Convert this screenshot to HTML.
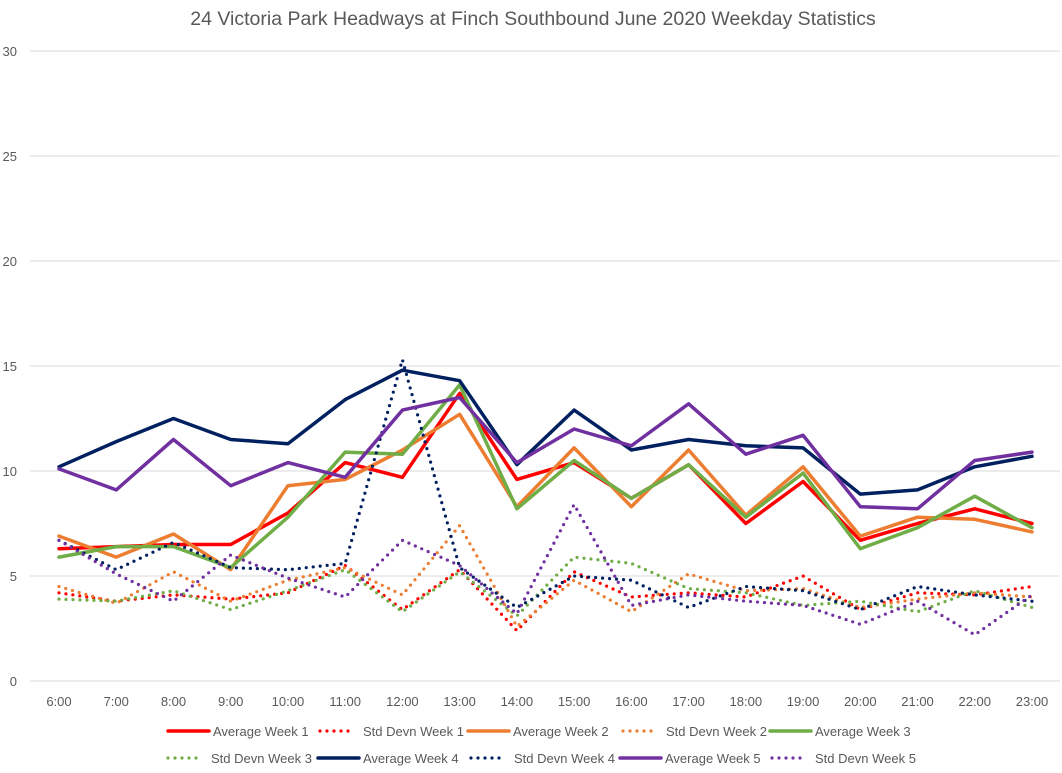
<!DOCTYPE html>
<html><head><meta charset="utf-8"><style>
html,body{margin:0;padding:0;background:#fff;}
svg{display:block;font-family:"Liberation Sans",sans-serif;}
</style></head><body>
<svg id="chart" width="1062" height="773">
<text x="533" y="25" text-anchor="middle" font-size="19.5" fill="#595959">24 Victoria Park Headways at Finch Southbound June 2020 Weekday Statistics</text>
<g id="grid"></g><g id="series"></g><g id="legend"></g>
</svg>
<script>
const categories=["6:00","7:00","8:00","9:00","10:00","11:00","12:00","13:00","14:00","15:00","16:00","17:00","18:00","19:00","20:00","21:00","22:00","23:00"];
const yTicks=[0,5,10,15,20,25,30];
const avgW1=[6.3,6.4,6.5,6.5,8.0,10.4,9.7,13.7,9.6,10.4,8.7,10.3,7.5,9.5,6.7,7.5,8.2,7.5];
const stdW1=[4.2,3.8,4.1,3.9,4.2,5.5,3.4,5.3,2.4,5.2,4.0,4.2,4.0,5.0,3.4,4.2,4.1,4.5];
const avgW2=[6.9,5.9,7.0,5.3,9.3,9.6,11.0,12.7,8.3,11.1,8.3,11.0,7.9,10.2,6.9,7.8,7.7,7.1];
const stdW2=[4.5,3.7,5.2,3.8,4.8,5.4,4.1,7.4,2.6,4.8,3.3,5.1,4.3,4.4,3.5,3.9,4.2,4.0];
const avgW3=[5.9,6.4,6.4,5.4,7.8,10.9,10.8,14.1,8.2,10.5,8.7,10.3,7.8,9.9,6.3,7.3,8.8,7.3];
const stdW3=[3.9,3.8,4.3,3.4,4.3,5.3,3.3,5.2,3.1,5.9,5.6,4.4,4.2,3.6,3.8,3.3,4.3,3.5];
const avgW4=[10.2,11.4,12.5,11.5,11.3,13.4,14.8,14.3,10.3,12.9,11.0,11.5,11.2,11.1,8.9,9.1,10.2,10.7];
const stdW4=[6.7,5.3,6.6,5.4,5.3,5.6,15.3,5.4,3.5,5.0,4.8,3.5,4.5,4.3,3.4,4.5,4.1,3.8];
const avgW5=[10.1,9.1,11.5,9.3,10.4,9.7,12.9,13.5,10.4,12.0,11.2,13.2,10.8,11.7,8.3,8.2,10.5,10.9];
const stdW5=[6.7,5.1,3.8,6.0,4.9,4.0,6.7,5.5,3.2,8.4,3.6,4.1,3.8,3.6,2.7,3.8,2.2,4.1];

const NS="http://www.w3.org/2000/svg";
function xPos(i){return 59+i*(1032-59)/(categories.length-1);}
function yPos(v){return 681-v*21;}
function mk(tag,attrs,parent){const e=document.createElementNS(NS,tag);for(const k in attrs)e.setAttribute(k,attrs[k]);parent.appendChild(e);return e;}
const grid=document.getElementById('grid');
yTicks.forEach(t=>{
  const l=mk('line',{x1:30,x2:1060,y1:yPos(t),y2:yPos(t),stroke:'#d9d9d9','stroke-width':1},grid);
  
  
  const tx=mk('text',{x:17,y:yPos(t)+5,'text-anchor':'end','font-size':13,fill:'#595959'},grid);
  tx.textContent=t;
  
  
});
categories.forEach((c,i)=>{
  const tx=mk('text',{x:xPos(i),y:706,'text-anchor':'middle','font-size':13,fill:'#595959'},grid);
  tx.textContent=c;
  
  
});
const series=[
 {name:"Average Week 1",d:avgW1,c:"#ff0000",dot:false},
 {name:"Std Devn Week 1",d:stdW1,c:"#ff0000",dot:true},
 {name:"Average Week 2",d:avgW2,c:"#ed7d31",dot:false},
 {name:"Std Devn Week 2",d:stdW2,c:"#ed7d31",dot:true},
 {name:"Average Week 3",d:avgW3,c:"#70ad47",dot:false},
 {name:"Std Devn Week 3",d:stdW3,c:"#70ad47",dot:true},
 {name:"Average Week 4",d:avgW4,c:"#002060",dot:false},
 {name:"Std Devn Week 4",d:stdW4,c:"#002060",dot:true},
 {name:"Average Week 5",d:avgW5,c:"#7030a0",dot:false},
 {name:"Std Devn Week 5",d:stdW5,c:"#7030a0",dot:true}
];
function style(s){return s.dot?{stroke:s.c,'stroke-width':3.2,fill:'none','stroke-dasharray':'0 7','stroke-linecap':'round','stroke-linejoin':'round'}:{stroke:s.c,'stroke-width':3.5,fill:'none','stroke-linejoin':'round','stroke-linecap':'round'};}
const sg=document.getElementById('series');
series.forEach(s=>{
  const p=mk('polyline',Object.assign({points:s.d.map((v,i)=>xPos(i)+','+yPos(v)).join(' ')},style(s)),sg);
  
  
});
const legPos=[[166,731],[318,731],[466,731],[621,731],[768,731],[166,758],[316,758],[469,758],[618,758],[770,758]];
const lg=document.getElementById('legend');
series.forEach((s,i)=>{
  const [x,y]=legPos[i];
  const g=mk('g',{},lg);
  
  
  const len=s.dot?34:43;
  mk('line',Object.assign({x1:x+2,x2:x+len,y1:y,y2:y},style(s)),g);
  const t=mk('text',{x:s.dot?x+45:x+47,y:y+5,'font-size':13,fill:'#595959'},g);
  t.textContent=s.name;
});
</script>
</body></html>
